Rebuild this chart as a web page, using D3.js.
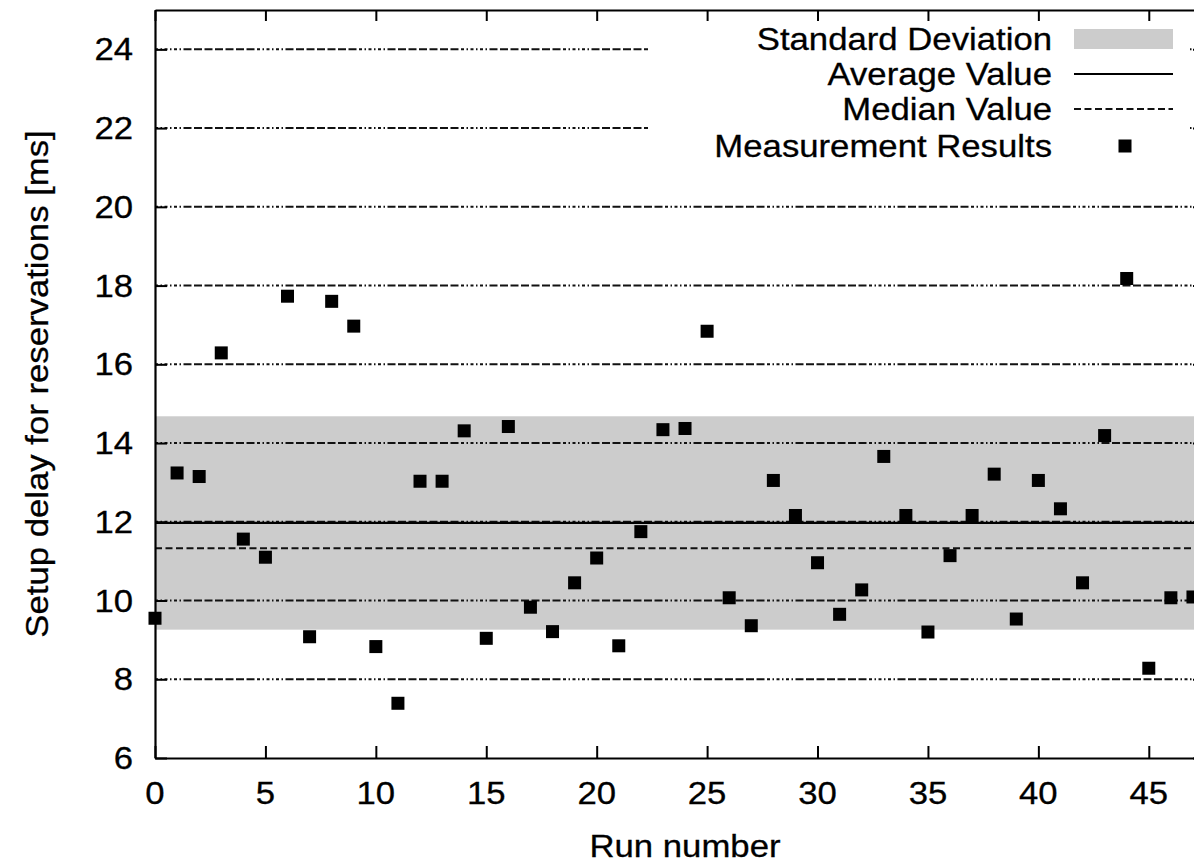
<!DOCTYPE html>
<html>
<head>
<meta charset="utf-8">
<script src="https://cdnjs.cloudflare.com/ajax/libs/d3/7.8.5/d3.min.js"></script>
<style>
	body { margin: 0; background: #fff; }
	text { font-family: "Liberation Sans", Arial, Helvetica, sans-serif; fill: #000; stroke: #000; stroke-width: 0.3px; }
</style>
</head>
<body>
<svg id="chart" width="1194" height="863"></svg>
<script>

let runs = d3.range(0, 48);
let delays = [9.55, 13.24, 13.15, 16.29, 11.56, 11.10, 17.73, 9.08, 17.60, 16.97,
	8.83, 7.39, 13.03, 13.03, 14.31, 9.04, 14.42, 9.83, 9.21, 10.45,
	11.08, 8.85, 11.75, 14.34, 14.37, 16.84, 10.07, 9.36, 13.05, 12.16,
	10.96, 9.65, 10.27, 13.66, 12.16, 9.20, 11.14, 12.16, 13.21, 9.53,
	13.05, 12.33, 10.45, 14.19, 18.18, 8.28, 10.07, 10.09];

// Summary lines
let averageValue = 11.97;
let medianValue = 11.33;
let stdDeviation = 2.71;

// Axis ticks
let xTicks = [0, 5, 10, 15, 20, 25, 30, 35, 40, 45];
let yTicks = [6, 8, 10, 12, 14, 16, 18, 20, 22, 24];

// Legend entries
let legendLabels = ["Standard Deviation", "Average Value", "Median Value", "Measurement Results"];

let svg = d3.select("#chart");

// Plot box (right border falls just outside the picture)
let plotLeft = 155, plotRight = 1204, plotTop = 10, plotBottom = 758;

let x = d3.scaleLinear().domain([0, 47.5]).range([plotLeft, plotRight]);
let y = d3.scaleLinear().domain([6, 25]).range([plotBottom, plotTop]);

let gridDash = "3,2.5,1.5,2.5,3,2.5,1.5,2.5,3,2.5,1.5,2.5,8,2.5,8,2.5,8,2.5,8,2.5,8,2.5,8,2.5,8,2.5";
let textStretch = 1.12; // the fonts in the picture are a bit wider than Liberation Sans
let fontSize = 31;

// Std deviation band
svg.append("rect")
	.attr("x", plotLeft)
	.attr("y", y(averageValue + stdDeviation))
	.attr("width", plotRight - plotLeft)
	.attr("height", y(averageValue - stdDeviation) - y(averageValue + stdDeviation))
	.attr("fill", "#cccccc");

// Horizontal grid
svg.append("g")
	.selectAll("line")
	.data(yTicks.slice(1))
	.join("line")
	.attr("x1", plotLeft)
	.attr("x2", plotRight)
	.attr("y1", d => y(d))
	.attr("y2", d => y(d))
	.attr("stroke", "#111")
	.attr("stroke-width", 2)
	.attr("stroke-dasharray", gridDash);

// Average and median lines
svg.append("line")
	.attr("x1", plotLeft).attr("x2", plotRight)
	.attr("y1", y(averageValue)).attr("y2", y(averageValue))
	.attr("stroke", "#000").attr("stroke-width", 2.2);

svg.append("line")
	.attr("x1", plotLeft).attr("x2", plotRight)
	.attr("y1", y(medianValue)).attr("y2", y(medianValue))
	.attr("stroke", "#111").attr("stroke-width", 2)
	.attr("stroke-dasharray", "7,3.5");

// Axes: bottom + left with inward ticks, mirrored at top + right
let xAxis = d3.axisBottom(x).tickValues(xTicks).tickSizeInner(-12).tickSizeOuter(0).tickFormat("");
let xAxisTop = d3.axisTop(x).tickValues(xTicks).tickSizeInner(-11).tickSizeOuter(0).tickFormat("");
let yAxis = d3.axisLeft(y).tickValues(yTicks).tickSizeInner(-12).tickSizeOuter(0).tickFormat("");
let yAxisRight = d3.axisRight(y).tickValues(yTicks).tickSizeInner(-11).tickSizeOuter(0).tickFormat("");

function styleAxis(g){
	g.selectAll("path").attr("stroke", "#000").attr("stroke-width", 2.2);
	g.selectAll("line").attr("stroke", "#000").attr("stroke-width", 2);
}

svg.append("g").attr("transform", "translate(0," + plotBottom + ")").call(xAxis).call(styleAxis);
svg.append("g").attr("transform", "translate(0," + plotTop + ")").call(xAxisTop).call(styleAxis);
svg.append("g").attr("transform", "translate(" + plotLeft + ",0)").call(yAxis).call(styleAxis);
svg.append("g").attr("transform", "translate(" + plotRight + ",0)").call(yAxisRight).call(styleAxis);

// Tick labels
svg.append("g")
	.selectAll("text")
	.data(xTicks)
	.join("text")
	.attr("transform", d => "translate(" + x(d) + "," + 804 + ") scale(" + textStretch + ",1)")
	.attr("text-anchor", "middle")
	.attr("font-size", fontSize)
	.text(d => d);

svg.append("g")
	.selectAll("text")
	.data(yTicks)
	.join("text")
	.attr("transform", d => "translate(" + 133 + "," + (y(d) + 11) + ") scale(" + textStretch + ",1)")
	.attr("text-anchor", "end")
	.attr("font-size", fontSize)
	.text(d => d);

// Axis titles
svg.append("text")
	.attr("transform", "translate(" + 685 + "," + 857 + ") scale(" + textStretch + ",1)")
	.attr("text-anchor", "middle")
	.attr("font-size", fontSize)
	.text("Run number");

svg.append("text")
	.attr("transform", "translate(" + 48 + "," + 384 + ") rotate(-90) scale(" + textStretch + ",1)")
	.attr("text-anchor", "middle")
	.attr("font-size", fontSize)
	.text("Setup delay for reservations [ms]");

// Legend (opaque box like gnuplot key)
let key = svg.append("g");
key.append("rect")
	.attr("x", 648).attr("y", 22)
	.attr("width", 541).attr("height", 146)
	.attr("fill", "#fff");

let rowY = [39, 74, 109, 146];

key.selectAll("text")
	.data(legendLabels)
	.join("text")
	.attr("transform", (d, i) => "translate(" + 1052 + "," + (rowY[i] + 11) + ") scale(" + textStretch + ",1)")
	.attr("text-anchor", "end")
	.attr("font-size", fontSize)
	.text(d => d);

key.append("rect")
	.attr("x", 1074).attr("y", 29)
	.attr("width", 99).attr("height", 20)
	.attr("fill", "#cccccc");

key.append("line")
	.attr("x1", 1074).attr("x2", 1173)
	.attr("y1", rowY[1]).attr("y2", rowY[1])
	.attr("stroke", "#000").attr("stroke-width", 2.2);

key.append("line")
	.attr("x1", 1074).attr("x2", 1173)
	.attr("y1", rowY[2]).attr("y2", rowY[2])
	.attr("stroke", "#111").attr("stroke-width", 2)
	.attr("stroke-dasharray", "7,3.5");

key.append("rect")
	.attr("x", 1125 - 6.5).attr("y", rowY[3] - 6.5)
	.attr("width", 13).attr("height", 13)
	.attr("fill", "#000");

// Measurement points
let points = runs.map((r, i) => ({run: r, delay: delays[i]}));
svg.append("g")
	.selectAll("rect")
	.data(points)
	.join("rect")
	.attr("x", d => x(d.run) - 6.5)
	.attr("y", d => y(d.delay) - 6.5)
	.attr("width", 13)
	.attr("height", 13)
	.attr("fill", "#000");

</script>
</body>
</html>
